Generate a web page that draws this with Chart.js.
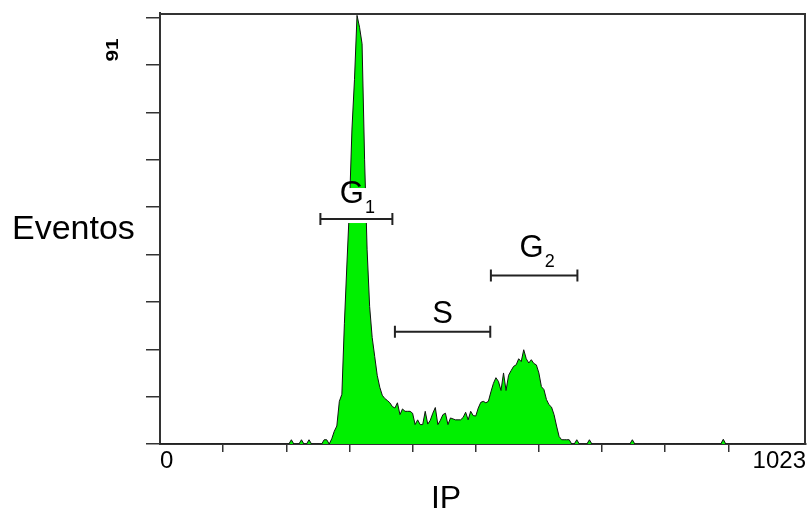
<!DOCTYPE html>
<html><head><meta charset="utf-8">
<script src="https://cdn.jsdelivr.net/npm/chart.js@4"></script>
<style>html,body{margin:0;padding:0;background:#fff;}canvas{display:block;}</style>
</head><body>
<canvas id="c" width="807" height="510"></canvas>
<script>
// ---- data ----
const binWidth = 4; // channels per histogram bin (0..1023)
const counts = [
  0,0,0,0,0,0,0,0,0,0,0,0,0,0,0,0,
  0,0,0,0,0,0,0,0,0,0,0,0,0,0,0,0,
  0,0,0,0,0,0,0,0,0,0,0,0,0,0,0,0,
  0,0,0,0,0.9,0,0,0,0.9,0,0,0.9,0,0,0,0,
  0,0.9,0.9,0,1.1,2.7,3.8,9.0,10.5,25.5,38,50,66.5,77,90.5,88,
  84.5,60,41,29,22.5,18.5,14.5,12.0,10.3,9.6,9.2,8.7,7.9,7.6,8.7,6.2,
  7.4,6.9,6.9,6.9,6.5,4.1,5.1,4.1,4.1,6.9,4.2,5.0,6.5,7.7,4.1,5.0,
  6.2,6.5,4.1,5.5,5.3,5.1,5.1,5.1,5.6,6.7,5.1,6.9,6.0,5.9,7.6,8.8,
  9.0,8.7,9.0,11.0,12.8,14.0,13.2,11.3,15.0,11.3,14.5,15.5,16.4,16.7,18.0,17.4,
  19.9,18.0,17.1,17.8,17.0,16.7,15.0,12.1,11.5,9.4,8.3,7.8,6.2,3.8,1.6,0.9,
  0.9,0.9,0.9,0,0,0.9,0,0,0,0,0.9,0,0,0,0,0,
  0,0,0,0,0,0,0,0,0,0,0,0.9,0,0,0,0,
  0,0,0,0,0,0,0,0,0,0,0,0,0,0,0,0,
  0,0,0,0,0,0,0,0,0,0,0,0,0,0,0,1.0,
  0,0,0,0,0,0,0,0,0,0,0,0,0,0,0,0,
  0,0,0,0,0,0,0,0,0,0,0,0,0,0,0,0
];
const xMin = 0, xMax = 1023;
const yMin = 0, yMax = 91;
const xTicks = [0,100,200,300,400,500,600,700,800,900,1023];
const xTickLabels = ['0','','','','','','','','','','1023'];
const yTicks = [0,10,20,30,40,50,60,70,80,90];
const yMaxLabel = '91';
const xTitle = 'IP';
const yTitle = 'Eventos';
// cell-cycle gates (channel range, level in events)
const gateNames = ['G','S','G'];
const gateSubs  = ['1','','2'];
const gateStart = [254, 372, 524];
const gateEnd   = [368, 523, 661];
const gateLevel = [47.5, 23.7, 35.6];

// ---- styles ----
const FONT = '"Liberation Sans", Arial, sans-serif';
const labelGap = [16, 9, 18];
const labelShift = [1, 0, 3];
const INK = '#000';

const points = counts.map((v, i) => ({x: i * binWidth, y: v}));

const annot = {
  id: 'annot',
  afterDraw(chart) {
    const {ctx, chartArea: a, scales: {x, y}} = chart;
    ctx.save();
    // frame top & right
    ctx.strokeStyle = '#333'; ctx.lineWidth = 2;
    ctx.beginPath();
    ctx.moveTo(a.left, a.top + 1); ctx.lineTo(a.right - 1, a.top + 1); ctx.lineTo(a.right - 1, a.bottom);
    ctx.stroke();
    // gates
    gateNames.forEach((n, i) => {
      const x0 = x.getPixelForValue(gateStart[i]);
      const x1 = x.getPixelForValue(gateEnd[i]);
      const yy = y.getPixelForValue(gateLevel[i]);
      const gap = labelGap[i];
      ctx.fillStyle = '#fff';
      ctx.fillRect(x0, yy - gap - 15, x1 - x0, gap + 15 + 4);
      ctx.strokeStyle = '#222'; ctx.lineWidth = 2;
      ctx.beginPath();
      ctx.moveTo(x0, yy); ctx.lineTo(x1, yy);
      ctx.moveTo(x0, yy - 6); ctx.lineTo(x0, yy + 6);
      ctx.moveTo(x1, yy - 6); ctx.lineTo(x1, yy + 6);
      ctx.stroke();
      const mainF = '31px ' + FONT, subF = '18px ' + FONT;
      ctx.font = mainF; const w1 = ctx.measureText(n).width;
      ctx.font = subF; const w2 = gateSubs[i] ? ctx.measureText(gateSubs[i]).width + 1 : 0;
      const cx = (x0 + x1) / 2 + labelShift[i];
      const left = cx - (w1 + w2) / 2;
      ctx.fillStyle = INK; ctx.textAlign = 'left'; ctx.textBaseline = 'alphabetic';
      ctx.font = mainF; ctx.fillText(n, left, yy - gap);
      if (gateSubs[i]) { ctx.font = subF; ctx.fillText(gateSubs[i], left + w1 + 1, yy - gap + 10); }
    });
    // axis titles
    ctx.fillStyle = INK; ctx.textBaseline = 'alphabetic';
    ctx.font = '34px ' + FONT; ctx.textAlign = 'left';
    ctx.fillText(yTitle, 12, 239);
    ctx.font = '32px ' + FONT; ctx.textAlign = 'center';
    ctx.fillText(xTitle, 446, 508);
    // y max label (rotated)
    ctx.save();
    ctx.translate(113, 50);
    ctx.rotate(-Math.PI / 2);
    ctx.scale(1.3, 1);
    ctx.font = 'bold 16px ' + FONT; ctx.textAlign = 'center'; ctx.textBaseline = 'middle';
    ctx.fillText(yMaxLabel, 0, 1);
    ctx.restore();
    ctx.restore();
  }
};

new Chart(document.getElementById('c'), {
  type: 'line',
  data: {datasets: [{
    data: points, borderColor: '#111', borderWidth: 1, backgroundColor: '#00f000',
    fill: 'origin', pointRadius: 0, tension: 0
  }]},
  options: {
    responsive: false, animation: false, events: [],
    layout: {padding: {top: 13, right: 1, left: 0, bottom: 0}},
    plugins: {legend: {display: false}, tooltip: {enabled: false}},
    scales: {
      x: {
        type: 'linear', min: xMin, max: xMax, z: 1,
        afterBuildTicks: s => { s.ticks = xTicks.map(v => ({value: v})); },
        afterFit: s => { s.height = 66; },
        grid: {drawOnChartArea: false, drawTicks: true, tickLength: 8, lineWidth: 1.5,
               color: c => (c.tick && (c.tick.value === xMin || c.tick.value === xMax)) ? 'rgba(0,0,0,0)' : '#333'},
        border: {display: true, color: '#333', width: 2},
        ticks: {align: 'inner', padding: -5, maxRotation: 0, minRotation: 0, autoSkip: false,
                font: {family: FONT, size: 24}, color: INK,
                callback: (v, i) => xTickLabels[i]}
      },
      y: {
        type: 'linear', min: yMin, max: yMax, z: 1,
        afterBuildTicks: s => { s.ticks = yTicks.map(v => ({value: v})); },
        afterFit: s => { s.width = 160; },
        grid: {drawOnChartArea: false, drawTicks: true, tickLength: 14, lineWidth: 1.5, color: '#333'},
        border: {display: true, color: '#333', width: 2},
        ticks: {display: false}
      }
    }
  },
  plugins: [annot]
});
</script>
</body></html>
